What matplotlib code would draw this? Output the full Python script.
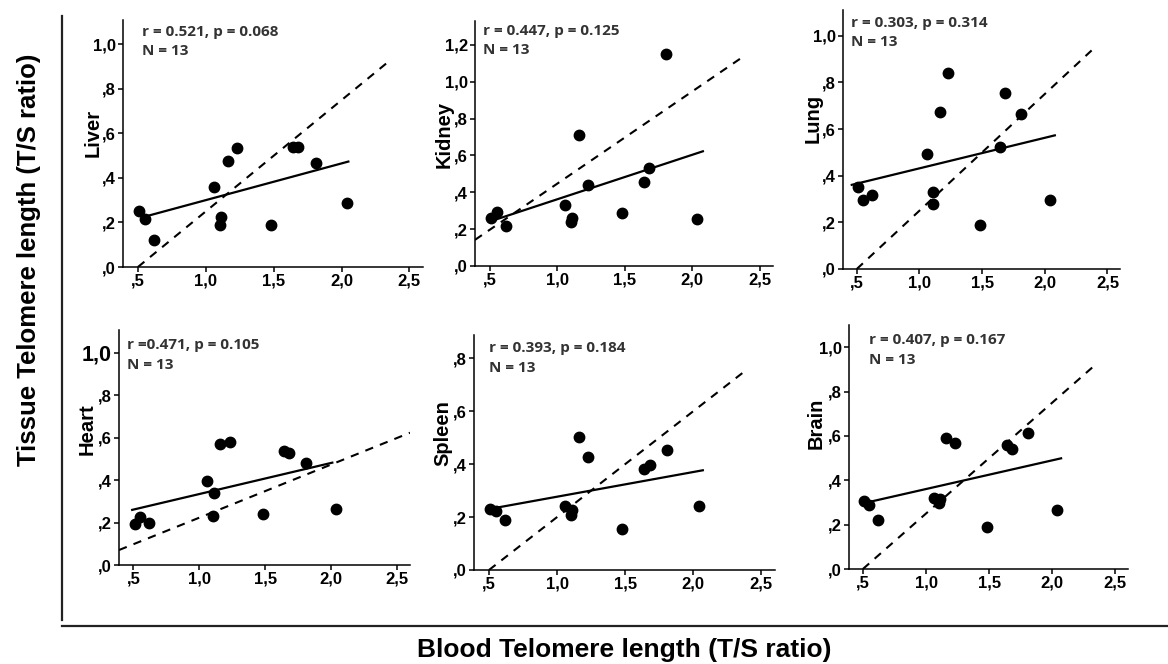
import numpy as np
import matplotlib
matplotlib.use("Agg")
import matplotlib.pyplot as plt
from matplotlib.lines import Line2D

# ---------------- data ----------------
blood = [0.51, 0.55, 0.62, 1.06, 1.11, 1.105, 1.16, 1.23, 1.48, 1.64, 1.68, 1.81, 2.04]

tissues = ["Liver", "Kidney", "Lung", "Heart", "Spleen", "Brain"]

liver = [0.251, 0.215, 0.123, 0.359, 0.226, 0.188, 0.477, 0.535, 0.188, 0.541, 0.541, 0.468, 0.289]
kidney = [0.259, 0.293, 0.217, 0.333, 0.259, 0.237, 0.713, 0.438, 0.288, 0.454, 0.534, 1.149, 0.257]
lung = [0.350, 0.297, 0.316, 0.493, 0.329, 0.277, 0.673, 0.839, 0.190, 0.521, 0.754, 0.664, 0.297]
heart = [0.192, 0.228, 0.199, 0.397, 0.339, 0.232, 0.570, 0.579, 0.242, 0.535, 0.527, 0.479, 0.265]
spleen = [0.232, 0.224, 0.190, 0.243, 0.225, 0.208, 0.504, 0.426, 0.155, 0.382, 0.398, 0.453, 0.240]
brain = [0.306, 0.289, 0.221, 0.320, 0.317, 0.297, 0.589, 0.566, 0.189, 0.557, 0.542, 0.613, 0.268]

tissue_values = [liver, kidney, lung, heart, spleen, brain]

stats_text = ["r = 0.521, p = 0.068", "r = 0.447, p = 0.125", "r = 0.303, p = 0.314",
              "r =0.471, p = 0.105", "r = 0.393, p = 0.184", "r = 0.407, p = 0.167"]
n_text = "N = 13"

# regression line x-extent
fit_ranges = [(0.55, 2.05), (0.51, 2.08), (0.46, 2.08), (0.49, 2.01), (0.505, 2.07), (0.51, 2.07)]
# dashed reference lines: slope, intercept, x-start, x-end
ref_slopes = [0.5, 0.5, 0.5, 0.25, 0.4, 0.5]
ref_intercepts = [-0.25, -0.053, -0.25, -0.027, -0.2, -0.25]
ref_ranges = [(0.5, 2.34), (0.39, 2.37), (0.5, 2.38), (0.39, 2.6), (0.5, 2.37), (0.5, 2.33)]

x_ticks = [0.5, 1.0, 1.5, 2.0, 2.5]
x_ticklabels = [",5", "1,0", "1,5", "2,0", "2,5"]
y_ticks_std = [0.0, 0.2, 0.4, 0.6, 0.8, 1.0]
y_ticklabels_std = [",0", ",2", ",4", ",6", ",8", "1,0"]
y_ticks_kidney = [0.0, 0.2, 0.4, 0.6, 0.8, 1.0, 1.2]
y_ticklabels_kidney = [",0", ",2", ",4", ",6", ",8", "1,0", "1,2"]
y_ticks_spleen = [0.0, 0.2, 0.4, 0.6, 0.8]
y_ticklabels_spleen = [",0", ",2", ",4", ",6", ",8"]

y_tops = [1.11, 1.33, 1.11, 1.107, 0.888, 1.10]

# ---------------- layout (pixels) ----------------
W, H = 1168, 664
# left, right, top, bottom in px
boxes = [(123, 423, 20, 267), (475, 773, 21, 266), (843, 1120, 10, 269),
         (119, 410, 330, 565), (474, 775, 335, 570), (849, 1128, 325, 569)]
label_pos = [(93, 133), (444, 134), (813, 118), (87, 429), (443, 433), (816, 423)]
annot_pos = [(142, 31.7), (483, 30.7), (851, 22.7), (127, 345), (489, 348.3), (869, 340)]

fig = plt.figure(figsize=(W / 100, H / 100), dpi=100)

tick_font = dict(family="Liberation Sans", weight="bold", size=12)

for i, name in enumerate(tissues):
    L, R, T, B = boxes[i]
    ax = fig.add_axes([L / W, 1 - B / H, (R - L) / W, (B - T) / H])
    y = tissue_values[i]
    ax.plot(blood, y, "o", color="black", ms=7.5, zorder=3)

    # regression line
    slope, inter = np.polyfit(blood, y, 1)
    xs = np.array(fit_ranges[i])
    ax.plot(xs, slope * xs + inter, color="black", lw=1.6, zorder=2)

    # dashed reference
    xr = np.array(ref_ranges[i])
    ax.plot(xr, ref_slopes[i] * xr + ref_intercepts[i], color="black", lw=1.5,
            ls=(0, (4, 3.5)), zorder=2)

    ax.set_xlim(0.39, 2.6)
    ax.set_ylim(0, y_tops[i])
    ax.set_xticks(x_ticks)
    ax.set_xticklabels(x_ticklabels, fontdict=tick_font)
    if name == "Kidney":
        ax.set_yticks(y_ticks_kidney)
        ylabs = ax.set_yticklabels(y_ticklabels_kidney, fontdict=tick_font)
    elif name == "Spleen":
        ax.set_yticks(y_ticks_spleen)
        ylabs = ax.set_yticklabels(y_ticklabels_spleen, fontdict=tick_font)
    else:
        ax.set_yticks(y_ticks_std)
        ylabs = ax.set_yticklabels(y_ticklabels_std, fontdict=tick_font)
    if name == "Heart":
        ylabs[-1].set_fontsize(15.5)

    for s in ["top", "right"]:
        ax.spines[s].set_visible(False)
    for s in ["left", "bottom"]:
        ax.spines[s].set_linewidth(1.1)
    ax.tick_params(direction="out", length=3.5, width=1.1, pad=1.5)
    ax.patch.set_alpha(0)

    lx, ly = label_pos[i]
    fig.text(lx / W, 1 - ly / H, name, rotation=90, ha="center", va="center",
             family="Liberation Sans", weight="bold", fontsize=14.5)

    axx, axy = annot_pos[i]
    fig.text(axx / W, 1 - axy / H, stats_text[i], ha="left", va="center",
             family="Open Sans", weight="bold", fontsize=11, color="#333333")
    fig.text(axx / W, 1 - (axy + 19.5) / H, n_text, ha="left", va="center",
             family="Open Sans", weight="bold", fontsize=11, color="#333333")

# frame lines
fig.add_artist(Line2D([62 / W, 62 / W], [1 - 16 / H, 1 - 620 / H], transform=fig.transFigure,
                      color="#222222", lw=1.6))
fig.add_artist(Line2D([62 / W, 1.0], [1 - 625.5 / H, 1 - 625.5 / H], transform=fig.transFigure,
                      color="#222222", lw=1.6))

fig.text(29 / W, 1 - 260 / H, "Tissue Telomere length (T/S ratio)", rotation=90,
         ha="center", va="center", family="Liberation Sans", weight="bold", fontsize=18.5)
fig.text(624 / W, 1 - 650 / H, "Blood Telomere length (T/S ratio)",
         ha="center", va="center", family="Liberation Sans", weight="bold", fontsize=19)

fig.savefig("out.png", dpi=100)
